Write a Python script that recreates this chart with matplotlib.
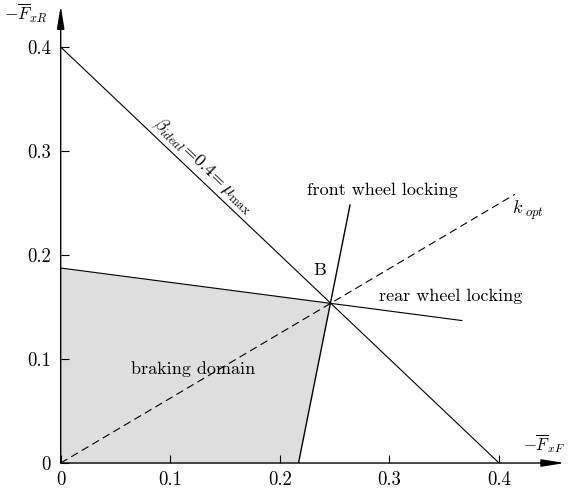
import numpy as np
import matplotlib
matplotlib.use('Agg')
import matplotlib.pyplot as plt

plt.rcParams['font.family'] = 'cmr10'
plt.rcParams['mathtext.fontset'] = 'cm'
plt.rcParams['axes.formatter.use_mathtext'] = True

# characteristic lines of the braking diagram
ideal_x = [0.0, 0.4]
ideal_y = [0.4, 0.0]
rear_x = [0.0, 0.366]
rear_y = [0.1875, 0.137]
front_x = [0.217, 0.264]
front_y = [0.0, 0.248]
kopt_x = [0.0, 0.4145]
kopt_y = [0.0, 0.2584]
point_b = (0.246, 0.154)

ticks = [0, 0.1, 0.2, 0.3, 0.4]
tick_labels = ['0', '0.1', '0.2', '0.3', '0.4']

fig = plt.figure(figsize=(5.78, 4.91), dpi=100)
ax = fig.add_axes([0.105, 0.057, 0.8722, 0.932])
ax.set_xlim(0, 0.46)
ax.set_ylim(0, 0.44)
for s in ax.spines.values():
    s.set_visible(False)

# braking domain
dom_x = [0.0, 0.0, point_b[0], front_x[0]]
dom_y = [0.0, rear_y[0], point_b[1], 0.0]
ax.fill(dom_x, dom_y, color='#dedede', lw=0, zorder=0)

lw = 0.8
ax.plot(ideal_x, ideal_y, color='k', lw=lw)
ax.plot(rear_x, rear_y, color='k', lw=lw)
ax.plot(front_x, front_y, color='k', lw=1.0)
ax.plot(kopt_x, kopt_y, color='k', lw=lw, dashes=(7, 4))

# axes with arrows
arrow = dict(arrowstyle='-|>,head_length=1.0,head_width=0.16', color='k', lw=1.0,
             shrinkA=0, shrinkB=0, mutation_scale=14)
ax.annotate('', xy=(0.46, 0), xytext=(0, 0), arrowprops=arrow, annotation_clip=False)
ax.annotate('', xy=(0, 0.44), xytext=(0, 0), arrowprops=arrow, annotation_clip=False)

ax.set_xticks(ticks)
ax.set_xticklabels(tick_labels)
ax.set_yticks(ticks)
ax.set_yticklabels(tick_labels)
ax.tick_params(direction='in', length=6, width=0.8, labelsize=13.5, pad=7)
ax.tick_params(axis='x', pad=6)

fs = 13
ax.text(-0.0125, 0.432, r'$-\overline{F}_{xR}$', fontsize=12.5, ha='right', va='center')
ax.text(0.46, 0.019, r'$-\overline{F}_{xF}$', fontsize=12, ha='right', va='center')
ax.text(0.13, 0.2865, r'$\beta_{ideal}\!=\!0.4\!=\mu_{\max}$', fontsize=fs,
        ha='center', va='center', rotation=-45, transform_rotates_text=True,
        rotation_mode='anchor')
ax.text(0.2246, 0.2625, 'front wheel locking', fontsize=fs, ha='left', va='center')
ax.text(0.2365, 0.1856, 'B', fontsize=fs, ha='center', va='center')
ax.text(0.29, 0.16, 'rear wheel locking', fontsize=fs, ha='left', va='center')
ax.text(0.064, 0.0904, 'braking domain', fontsize=fs, ha='left', va='center')
ax.text(0.412, 0.243, r'$k_{\ opt}$', fontsize=fs, ha='left', va='center')

fig.savefig('out.png', dpi=100)
